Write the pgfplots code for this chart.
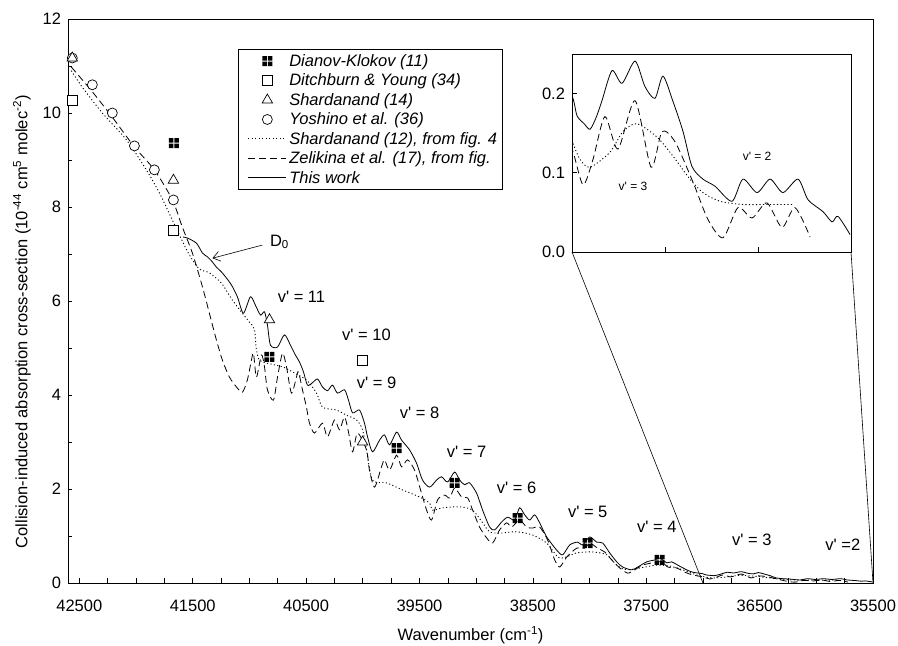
\documentclass[border=0pt]{standalone}
\usepackage{pgfplots}
\pgfplotsset{compat=1.18}
\usepackage{pgfplotstable}
\usetikzlibrary{arrows.meta}
\usepackage{fontspec}
\setmainfont{Liberation Sans}[Ligatures=TeXOff]

\pgfdeclareplotmark{dk}{%
  \pgfpathrectangle{\pgfpoint{-\pgfplotmarksize}{-\pgfplotmarksize}}{\pgfpoint{0.9\pgfplotmarksize}{0.9\pgfplotmarksize}}%
  \pgfpathrectangle{\pgfpoint{0.1\pgfplotmarksize}{-\pgfplotmarksize}}{\pgfpoint{0.9\pgfplotmarksize}{0.9\pgfplotmarksize}}%
  \pgfpathrectangle{\pgfpoint{-\pgfplotmarksize}{0.1\pgfplotmarksize}}{\pgfpoint{0.9\pgfplotmarksize}{0.9\pgfplotmarksize}}%
  \pgfpathrectangle{\pgfpoint{0.1\pgfplotmarksize}{0.1\pgfplotmarksize}}{\pgfpoint{0.9\pgfplotmarksize}{0.9\pgfplotmarksize}}%
  \pgfusepathqfill}

\newcommand\fs{\fontsize{16.5bp}{19bp}\selectfont}

\pgfplotstableread{
x y
41585 7.36
41547 7.34
41467 7.23
41414 7.02
41370 6.94
41326 6.83
41291 6.72
41247 6.62
41203 6.49
41158 6.34
41106 6.09
41053 5.74
40991 6.09
40947 5.91
40902 5.70
40867 5.77
40841 5.49
40814 5.06
40752 5.02
40691 5.28
40638 5.06
40594 4.85
40558 4.70
40523 4.49
40488 4.21
40444 4.26
40399 4.34
40355 4.17
40311 4.09
40267 4.21
40223 4.04
40161 4.11
40126 3.89
40090 3.62
40029 3.68
39985 3.40
39958 3.11
39914 2.79
39852 3.04
39808 3.15
39764 2.94
39702 3.21
39658 3.04
39587 2.83
39526 2.55
39473 2.19
39411 2.04
39349 2.19
39305 2.26
39252 2.15
39190 2.36
39146 2.19
39102 2.09
39058 2.13
38996 1.91
38943 1.55
38881 1.19
38837 1.13
38775 1.30
38722 1.40
38661 1.34
38617 1.60
38572 1.45
38528 1.34
38484 1.45
38440 1.28
38378 0.98
38290 0.70
38237 0.60
38175 0.81
38105 0.87
38061 0.81
37999 0.98
37937 0.87
37884 0.85
37822 0.64
37760 0.45
37708 0.34
37628 0.28
37575 0.34
37496 0.45
37425 0.49
37381 0.53
37319 0.43
37275 0.45
37222 0.38
37143 0.28
37090 0.23
37000 0.197
36973 0.172
36935 0.162
36903 0.155
36870 0.170
36839 0.191
36785 0.229
36731 0.213
36661 0.241
36608 0.209
36554 0.194
36511 0.222
36457 0.190
36403 0.152
36355 0.108
36296 0.092
36231 0.083
36140 0.064
36081 0.092
36005 0.075
35935 0.092
35866 0.075
35785 0.092
35731 0.066
35651 0.051
35602 0.038
35570 0.045
35505 0.022
}\thiswork

\pgfplotstableread{
x y
42571 10.98
42385 10.45
42209 9.91
42015 9.28
41838 8.79
41679 8.15
41591 7.57
41503 7.02
41414 6.30
41353 5.74
41291 5.17
41238 4.74
41176 4.38
41114 4.17
41062 4.06
41018 4.32
40982 4.74
40964 4.89
40938 4.38
40894 4.85
40867 4.60
40841 4.11
40788 3.89
40752 4.38
40708 4.89
40673 4.60
40629 4.04
40585 4.38
40567 4.49
40532 4.11
40497 3.74
40470 3.40
40426 3.19
40355 3.40
40311 3.11
40249 3.47
40205 3.26
40161 3.53
40126 3.21
40090 2.79
40046 3.19
39967 2.83
39941 2.40
39896 2.04
39835 2.47
39808 2.62
39764 2.40
39702 2.72
39658 2.47
39605 2.62
39543 2.40
39482 1.91
39437 1.55
39393 1.34
39340 1.77
39279 1.87
39234 1.81
39190 2.02
39128 1.83
39075 1.81
39031 1.55
38970 1.19
38908 0.96
38855 0.85
38793 1.13
38731 1.28
38687 1.19
38617 1.34
38555 1.19
38502 1.17
38440 1.19
38369 0.91
38307 0.49
38263 0.34
38202 0.55
38114 0.74
38043 0.74
37999 0.85
37928 0.74
37866 0.66
37804 0.49
37734 0.32
37663 0.21
37602 0.28
37531 0.38
37443 0.43
37363 0.45
37310 0.34
37231 0.32
37160 0.23
37090 0.17
37000 0.130
36941 0.085
36887 0.117
36823 0.171
36753 0.130
36661 0.191
36575 0.107
36516 0.152
36446 0.139
36349 0.088
36269 0.041
36188 0.018
36108 0.056
36032 0.043
35952 0.062
35871 0.031
35801 0.056
35720 0.019
}\zelikina

\pgfplotstableread{
x y
42571 10.90
42474 10.55
42297 10.00
42085 9.43
41909 8.79
41794 8.30
41679 7.72
41617 7.40
41529 6.98
41441 6.68
41353 6.60
41247 6.38
41150 6.02
41062 5.74
41000 5.55
40956 5.40
40938 4.96
40911 4.74
40850 4.68
40708 4.60
40620 4.49
40497 4.32
40408 4.04
40355 3.74
40232 3.68
40144 3.57
40055 3.47
40002 3.26
39967 2.83
39914 2.19
39790 2.13
39649 1.98
39499 1.83
39411 1.70
39384 1.55
39296 1.60
39146 1.62
39031 1.55
38943 1.28
38881 1.09
38793 1.06
38643 1.09
38502 1.02
38378 0.85
38263 0.53
38114 0.64
37973 0.66
37849 0.60
37760 0.38
37672 0.28
37557 0.32
37407 0.38
37293 0.36
37178 0.28
37054 0.17
37000 0.140
36957 0.117
36903 0.107
36796 0.126
36726 0.152
36651 0.162
36543 0.145
36457 0.121
36366 0.092
36296 0.075
36204 0.064
36081 0.060
35952 0.060
35812 0.060
}\shardline

\tikzset{
  solidline/.style={black, line width=0.8bp, smooth, tension=0.45},
  dashline/.style={black, line width=0.8bp, dash pattern=on 7bp off 4bp, smooth, tension=0.45},
  dotline/.style={black, line width=0.9bp, dash pattern=on 1.1bp off 2.4bp, smooth, tension=0.45},
}

\begin{document}
\begin{tikzpicture}[x=1bp,y=1bp]
\useasboundingbox (0,0) rectangle (898,646);
\begin{axis}[
  name=main, at={(68bp,63bp)}, anchor=south west, scale only axis,
  width=805bp, height=564bp,
  x dir=reverse, xmin=35500, xmax=42600, ymin=0, ymax=12,
  xtick={35500,36500,...,42500}, minor x tick num=3,
  ytick={0,2,...,12}, minor y tick num=1,
  tick align=inside, xtick pos=bottom, ytick pos=left,
  major tick length=4.5bp, minor tick length=4.5bp,
  every tick/.style={black, line width=0.6bp},
  axis line style={line width=0.8bp},
  scaled x ticks=false,
  /pgf/number format/1000 sep={},
  /pgf/number format/assume math mode=true,
  tick label style={font=\fs},
  xticklabel style={yshift=-13bp},
  yticklabel style={xshift=-3.5bp},
  xlabel={Wavenumber (cm\textsuperscript{-1})},
  xlabel style={at={(axis description cs:0.5,0)}, anchor=base, yshift=-58bp, font=\fs},
  ylabel={Collision-induced absorption cross-section (10\textsuperscript{-44} cm\textsuperscript{5} molec\textsuperscript{-2})},
  ylabel style={at={(axis description cs:-0.0571,0.463)}, anchor=center, font=\fs},
  legend style={at={(0.2112,0.9468)}, anchor=north west, draw=black, line width=0.8bp, fill=white,
    font=\itshape\fs, inner xsep=3bp, inner ysep=2bp, row sep=0pt,
    nodes={inner xsep=2.5bp, inner ysep=3bp}},
  legend cell align=left,
  legend image code/.code={\path (0bp,0bp); \draw[mark repeat=2,mark phase=2,#1] plot coordinates {(6.5bp,0bp) (25.5bp,0bp) (44.5bp,0bp)};},
]
\addlegendimage{only marks, mark=dk, mark size=5bp, black}
\addlegendentry{Dianov-Klokov (11)}
\addlegendimage{only marks, mark=square*, mark size=5bp, mark options={fill=white, draw=black, line width=0.7bp}}
\addlegendentry{Ditchburn \& Young (34)}
\addlegendimage{only marks, mark=triangle*, mark size=6bp, mark options={fill=white, draw=black, line width=0.7bp}}
\addlegendentry{Shardanand (14)}
\addlegendimage{only marks, mark=*, mark size=5bp, mark options={fill=white, draw=black, line width=0.7bp}}
\addlegendentry{Yoshino et al. (36)}
\addlegendimage{black, line width=0.9bp, dash pattern=on 1.1bp off 2.4bp}
\addlegendentry{Shardanand (12), from fig. 4}
\addlegendimage{black, line width=0.8bp, dash pattern=on 7bp off 4bp}
\addlegendentry{Zelikina et al. (17), from fig.}
\addlegendimage{black, line width=0.8bp}
\addlegendentry{This work}

\addplot[dotline, forget plot] table[x=x,y=y] {\shardline};
\addplot[dashline, forget plot] table[x=x,y=y] {\zelikina};
\addplot[solidline, forget plot] table[x=x,y=y] {\thiswork};

\addplot[only marks, mark=square*, mark size=5bp, mark options={fill=white, draw=black, line width=0.7bp}, forget plot] coordinates {(42562,10.26) (41670,7.51) (40002,4.74)};
\addplot[only marks, mark=*, mark size=5bp, mark options={fill=white, draw=black, line width=0.7bp}, forget plot] coordinates {(42562,11.17) (42385,10.6) (42209,10.0) (42014,9.3) (41838,8.79) (41670,8.15)};
\addplot[only marks, mark=triangle*, mark size=6bp, mark options={fill=white, draw=black, line width=0.7bp}, forget plot] coordinates {(42562,11.17) (41670,8.57) (40823,5.60) (40002,3.00)};
\addplot[only marks, mark=dk, mark size=5bp, black, forget plot] coordinates {(41667,9.36) (40823,4.81) (39702,2.87) (39190,2.13) (38634,1.38) (38016,0.85) (37381,0.49)};

\node[font=\fs] at (axis cs:40541,6.09) {v' = 11};
\node[font=\fs] at (axis cs:39967,5.28) {v' = 10};
\node[font=\fs] at (axis cs:39879,4.26) {v' = 9};
\node[font=\fs] at (axis cs:39499,3.62) {v' = 8};
\node[font=\fs] at (axis cs:39084,2.79) {v' = 7};
\node[font=\fs] at (axis cs:38643,2.02) {v' = 6};
\node[font=\fs] at (axis cs:38016,1.51) {v' = 5};
\node[font=\fs] at (axis cs:37407,1.19) {v' = 4};
\node[font=\fs] at (axis cs:36569,0.91) {v' = 3};
\node[font=\fs] at (axis cs:35766,0.81) {v' =2};
\node[font=\fs] at (axis cs:40735,7.26) {D\textsubscript{0}};
\draw[-{Straight Barb[length=7bp,width=10bp]}, line width=0.6bp] (axis cs:40885,7.19) -- (axis cs:41326,6.91);
\coordinate (a1) at (axis cs:37000,0);
\coordinate (a2) at (axis cs:35500,0);
\end{axis}

\begin{axis}[
  name=inset, at={(572bp,394bp)}, anchor=south west, scale only axis,
  width=279bp, height=198bp,
  x dir=reverse, xmin=35500, xmax=37000, ymin=0, ymax=0.25,
  xtick={36000,36500}, xticklabels={}, ytick={0,0.1,0.2},
  scaled x ticks=false, scaled y ticks=false,
  tick align=inside, xtick pos=bottom, ytick pos=left,
  major tick length=4.5bp,
  every tick/.style={black, line width=0.6bp},
  axis line style={line width=0.8bp},
  axis background/.style={fill=white},
  /pgf/number format/assume math mode=true,
  tick label style={font=\fs},
  y tick label style={/pgf/number format/fixed, /pgf/number format/fixed zerofill, /pgf/number format/precision=1, xshift=-3.5bp},
]
\addplot[dotline, restrict x to domain=35400:37300] table[x=x,y=y] {\shardline};
\addplot[dashline, restrict x to domain=35400:37300] table[x=x,y=y] {\zelikina};
\addplot[solidline, restrict x to domain=35400:37300] table[x=x,y=y] {\thiswork};
\node[font=\fontsize{12bp}{14bp}\selectfont] at (axis cs:36005,0.121) {v' = 2};
\node[font=\fontsize{12bp}{14bp}\selectfont] at (axis cs:36672,0.083) {v' = 3};
\end{axis}
\draw[line width=0.6bp] (inset.south west) -- (a1);
\draw[line width=0.6bp] (inset.south east) -- (a2);
\end{tikzpicture}
\end{document}
